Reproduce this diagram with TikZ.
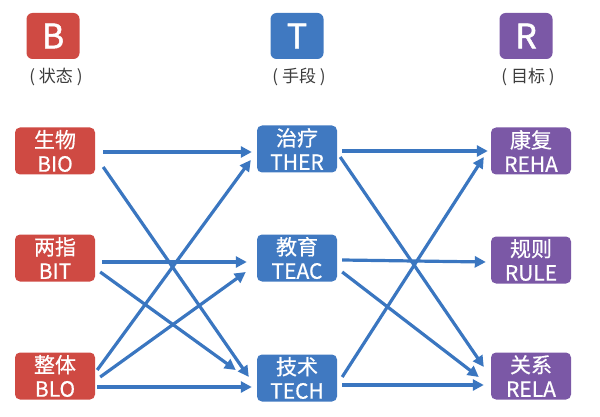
\documentclass[tikz,border=0pt]{standalone}
\usepackage{fontspec}
\newfontfamily\cjk[FakeBold=0.6]{Noto Sans CJK SC}
\newfontfamily\cjkhead[FakeBold=1.4]{Noto Sans CJK SC}
\newfontfamily\cjkplain{Noto Sans CJK SC}
\usetikzlibrary{arrows.meta,positioning}
\definecolor{bred}{HTML}{CF4A43}
\definecolor{tblue}{HTML}{4079C1}
\definecolor{rpurple}{HTML}{7B58A6}
\definecolor{linkblue}{HTML}{3A76C0}
\definecolor{capgray}{HTML}{3C3C3C}

\begin{document}
\begin{tikzpicture}[x=1pt, y=-1pt,
  head/.style={rounded corners=6pt, minimum width=53pt, minimum height=46pt, inner sep=0pt,
    text=white, font=\cjkhead\fontsize{34}{34}\selectfont},
  caption/.style={inner sep=0pt, text=capgray, font=\cjkplain\fontsize{17}{17}\selectfont},
  box/.style={rounded corners=5pt, minimum width=80pt, minimum height=47pt, inner sep=0pt,
    text=white, align=center, font=\cjk\fontsize{21}{24}\selectfont},
  link/.style={draw=linkblue, line width=3.2pt, -{Triangle[length=11pt,width=11pt]}}]
\useasboundingbox (0,0) rectangle (600,417);

% Headers
\node[head, fill=bred] (hb) at (53,36) {B};
\node[head, fill=tblue] (ht) at (297,36) {T};
\node[head, fill=rpurple] (hr) at (526,36) {R};
\node[caption] (cb) at (56,77) {( 状态 )};
\node[caption] (ct) at (299,77) {( 手段 )};
\node[caption] (cr) at (528,77) {( 目标 )};

% States
\node[box, fill=bred] (bio) at (55,151) {生物\\BIO};
\node[box, fill=bred] (bit) at (55,258) {两指\\BIT};
\node[box, fill=bred] (blo) at (55,376) {整体\\BLO};

% Means
\node[box, fill=tblue] (ther) at (297,149) {治疗\\THER};
\node[box, fill=tblue] (teac) at (297,258) {教育\\TEAC};
\node[box, fill=tblue] (tech) at (297,378) {技术\\TECH};

% Goals
\node[box, fill=rpurple] (reha) at (531,151) {康复\\REHA};
\node[box, fill=rpurple] (rule) at (531,260) {规则\\RULE};
\node[box, fill=rpurple] (rela) at (531,376) {关系\\RELA};

% States to means
\draw[link] ([xshift=8pt,yshift=-1pt]bio.east) -- ([xshift=-5pt,yshift=-3pt]ther.west);
\draw[link] ([xshift=8pt,yshift=-16pt]bio.east) -- ([xshift=-8pt,yshift=1pt]tech.west);
\draw[link] ([xshift=7pt,yshift=-4pt]bit.east) -- ([xshift=-10pt,yshift=-4pt]teac.west);
\draw[link] ([xshift=5pt,yshift=-14pt]bit.east) -- ([xshift=-21pt,yshift=8pt]tech.west);
\draw[link] ([xshift=2pt,yshift=6pt]blo.east) -- ([xshift=-6pt,yshift=-11pt]ther.west);
\draw[link] ([xshift=5pt,yshift=-1pt]blo.east) -- ([xshift=-11pt,yshift=-14pt]teac.west);
\draw[link] ([xshift=2pt,yshift=-11pt]blo.east) -- ([xshift=-5pt,yshift=-9pt]tech.west);

% Means to goals
\draw[link] ([xshift=5pt,yshift=-2pt]ther.east) -- ([xshift=-3pt,yshift=0pt]reha.west);
\draw[link] ([xshift=3pt,yshift=-8pt]ther.east) -- ([xshift=-7pt,yshift=9pt]rela.west);
\draw[link] ([xshift=5pt,yshift=-2pt]teac.east) -- ([xshift=-5pt,yshift=-2pt]rule.west);
\draw[link] ([xshift=5pt,yshift=-14pt]teac.east) -- ([xshift=-12pt,yshift=-1pt]rela.west);
\draw[link] ([xshift=5pt,yshift=1pt]tech.east) -- ([xshift=-7pt,yshift=-6pt]reha.west);
\draw[link] ([xshift=5pt,yshift=-7pt]tech.east) -- ([xshift=-7pt,yshift=-9pt]rela.west);
\end{tikzpicture}
\end{document}
